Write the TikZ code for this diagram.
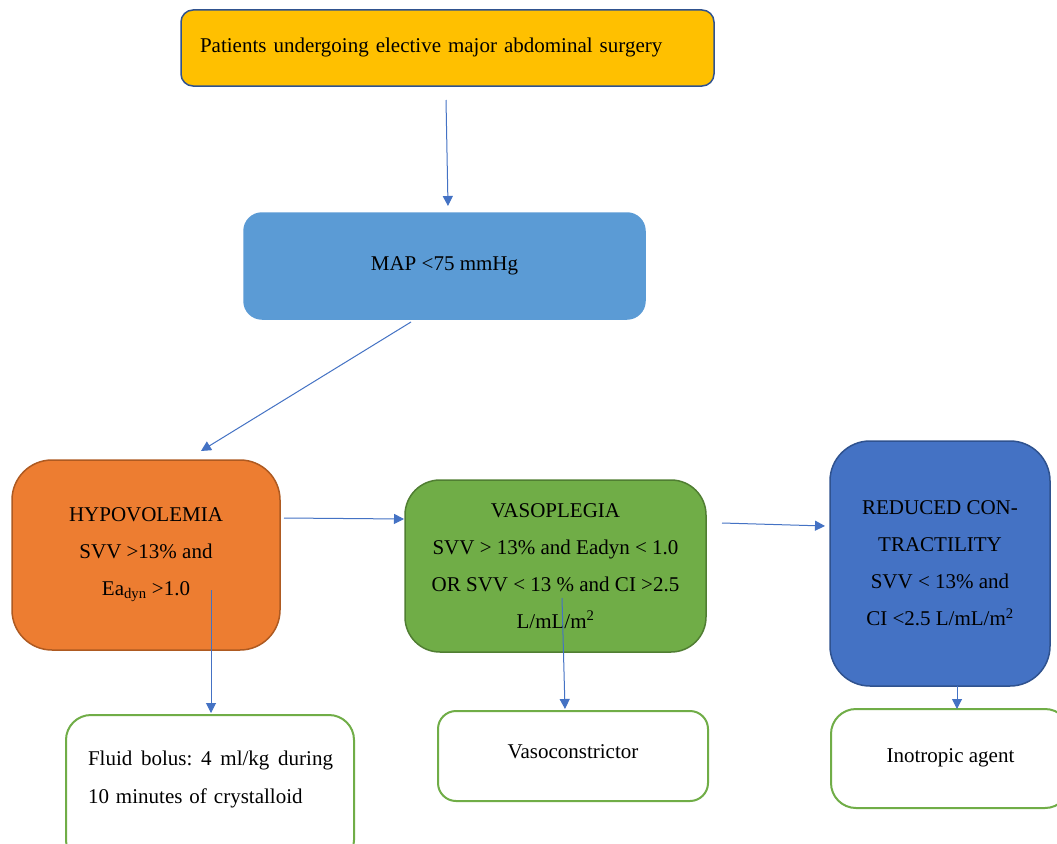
\documentclass[tikz,border=0pt]{standalone}
\usepackage{fontspec}
\setmainfont{Liberation Serif}
\usetikzlibrary{arrows.meta}
\definecolor{cYel}{HTML}{FFC000}
\definecolor{cBlueBorder}{HTML}{2F528F}
\definecolor{cMap}{HTML}{5B9BD5}
\definecolor{cOrange}{HTML}{ED7D31}
\definecolor{cOrangeB}{HTML}{AE5A21}
\definecolor{cGreen}{HTML}{70AD47}
\definecolor{cGreenB}{HTML}{507E32}
\definecolor{cBlue}{HTML}{4472C4}
\definecolor{cArrow}{HTML}{4472C4}
\tikzset{
  box/.style={rounded corners=#1, inner sep=0pt, align=center, line width=1.5pt,
    font=\fontsize{21}{37}\selectfont},
  outbox/.style={box=#1, draw=cGreen, fill=white, line width=2pt},
  conn/.style={draw=cArrow, line width=1pt, -{Triangle[length=10pt,width=10pt]}},
}
\begin{document}
\begin{tikzpicture}[x=1pt,y=-1pt]
\useasboundingbox (0,0) rectangle (1057,843);
\clip (0,0) rectangle (1057,843);
\fill[white] (0,0) rectangle (1057,843);

\node[box=12, draw=cBlueBorder, fill=cYel, minimum width=533pt, minimum height=76pt,
  text width=495pt, align=left] (top) at (447.5,48)
  {\raisebox{6pt}{Patients undergoing elective major abdominal surgery}};

\node[box=18, draw=cMap, fill=cMap, minimum width=401pt, minimum height=106pt]
  (map) at (444.5,266) {\raisebox{4pt}{MAP <75 mmHg}};

\node[box=40, draw=cOrangeB, fill=cOrange, minimum width=268pt, minimum height=190pt]
  (hypo) at (146,555) {HYPOVOLEMIA\\SVV >13\% and\\Ea\textsubscript{dyn} >1.0};

\node[box=35, draw=cGreenB, fill=cGreen, minimum width=301pt, minimum height=172pt]
  (vaso) at (555.5,566) {VASOPLEGIA\\SVV > 13\% and Eadyn < 1.0\\OR SVV < 13 \% and CI >2.5\\L/mL/m\textsuperscript{2}};

\node[box=40, draw=cBlueBorder, fill=cBlue, minimum width=220pt, minimum height=245pt]
  (red) at (940,563.5) {REDUCED CON-\\TRACTILITY\\SVV < 13\% and\\CI <2.5 L/mL/m\textsuperscript{2}};

\node[outbox=25, minimum width=288pt, minimum height=150pt] (fluid) at (210,790) {};
\node[font=\fontsize{21}{38}\selectfont, align=left, inner sep=0pt, text width=245pt]
  (fluidtxt) at (210.5,779)
  {\hbox to 245pt{Fluid\hfill bolus:\hfill 4\hfill ml/kg\hfill during}\\10 minutes of crystalloid};

\node[outbox=18, minimum width=270pt, minimum height=90pt] (vc) at (573,756)
  {\raisebox{8pt}{Vasoconstrictor}};

\node[outbox=25, minimum width=239pt, minimum height=99pt] (ino) at (950.5,758.5)
  {\raisebox{6pt}{Inotropic agent}};

% connector end points
\coordinate (a1s) at (446,100);  \coordinate (a1e) at (448,206);
\coordinate (a2s) at (411,322);  \coordinate (a2e) at (201,451);
\coordinate (a3s) at (284,518);  \coordinate (a3e) at (404,519);
\coordinate (a4s) at (722,523);  \coordinate (a4e) at (825,526);
\coordinate (a5s) at (211,590);  \coordinate (a5e) at (211,713);
\coordinate (a6s) at (562,598);  \coordinate (a6e) at (565,709);
\coordinate (a7s) at (957,686);  \coordinate (a7e) at (957,709);

\draw[conn] (a1s) -- (a1e);
\draw[conn] (a2s) -- (a2e);
\draw[conn] (a3s) -- (a3e);
\draw[conn] (a4s) -- (a4e);
\draw[conn] (a5s) -- (a5e);
\draw[conn] (a6s) -- (a6e);
\draw[conn] (a7s) -- (a7e);
\end{tikzpicture}
\end{document}
